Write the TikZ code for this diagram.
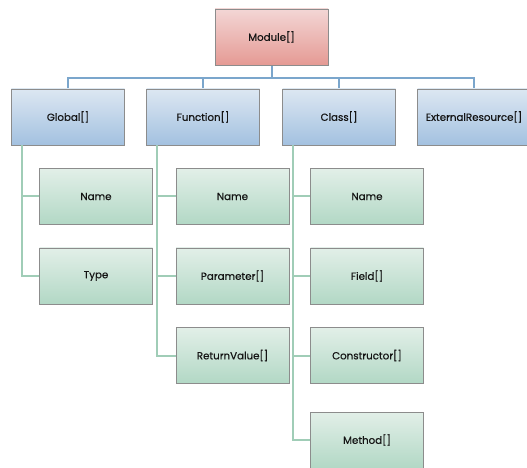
\documentclass[tikz,border=0pt]{standalone}
\usepackage{fontspec}
\setmainfont{Poppins}
\newfontfamily\boxfont{Poppins}[FakeBold=0.5]
\usetikzlibrary{calc}
\definecolor{bordergray}{HTML}{8C8C8C}
\definecolor{pinktop}{HTML}{F3D6D5}
\definecolor{pinkbot}{HTML}{E59A94}
\definecolor{bluetop}{HTML}{DCE7F2}
\definecolor{bluebot}{HTML}{A3C1E0}
\definecolor{greentop}{HTML}{E2EFE8}
\definecolor{greenbot}{HTML}{B2D8C5}
\definecolor{blueline}{HTML}{7BA6CC}
\definecolor{greenline}{HTML}{A0CDB7}
\tikzset{
  basebox/.style={draw=bordergray, line width=0.9bp, minimum width=113bp, minimum height=56bp, inner sep=0pt, font=\boxfont\fontsize{10.3}{12}\selectfont, text=black!92},
  modbox/.style={basebox, top color=pinktop, bottom color=pinkbot},
  lvlbox/.style={basebox, top color=bluetop, bottom color=bluebot},
  leafbox/.style={basebox, top color=greentop, bottom color=greenbot},
  bline/.style={draw=blueline, line width=2bp},
  gline/.style={draw=greenline, line width=2bp}
}
\begin{document}
\begin{tikzpicture}[x=1bp,y=-1bp]
\useasboundingbox (0,0) rectangle (527,468);
% bus and connectors first (behind boxes)
\coordinate (bus) at (271.5,78);
\coordinate (gtop) at (68,89);
\coordinate (ftop) at (203,89);
\coordinate (ctop) at (339,89);
\coordinate (etop) at (474,89);
\coordinate (mbot) at (271.5,65);
\draw[bline] (mbot) -- (bus) -| (gtop);
\draw[bline] (bus) -| (ftop);
\draw[bline] (bus) -| (ctop);
\draw[bline] (bus) -| (etop);
\node[modbox] (mod) at (271.5,37) {Module[]};
\node[lvlbox] (glob) at (68,117) {Global[]};
\node[lvlbox] (func) at (203,117) {Function[]};
\node[lvlbox] (cls) at (339,117) {Class[]};
\node[lvlbox] (ext) at (474,117) {ExternalResource[]};
% global children
\node[leafbox] (gname) at (96,196.5) {Name};
\node[leafbox] (gtype) at (96,276) {Type};
% function children
\node[leafbox] (fname) at (232.5,196.5) {Name};
\node[leafbox] (fparam) at (232.5,276) {Parameter[]};
\node[leafbox] (fret) at (232.5,355.5) {ReturnValue[]};
% class children
\node[leafbox] (cname) at (367,196.5) {Name};
\node[leafbox] (cfield) at (367,276) {Field[]};
\node[leafbox] (ccons) at (367,355.5) {Constructor[]};
\node[leafbox] (cmeth) at (367,440) {Method[]};
\coordinate (gs) at ($(glob.south west)+(11,0)$);
\coordinate (fs) at ($(func.south west)+(11,0)$);
\coordinate (cs) at ($(cls.south west)+(11,0)$);
\draw[gline] (gs) |- (gname.west);
\draw[gline] (gs) |- (gtype.west);
\draw[gline] (fs) |- (fname.west);
\draw[gline] (fs) |- (fparam.west);
\draw[gline] (fs) |- (fret.west);
\draw[gline] (cs) |- (cname.west);
\draw[gline] (cs) |- (cfield.west);
\draw[gline] (cs) |- (ccons.west);
\draw[gline] (cs) |- (cmeth.west);
\end{tikzpicture}
\end{document}
